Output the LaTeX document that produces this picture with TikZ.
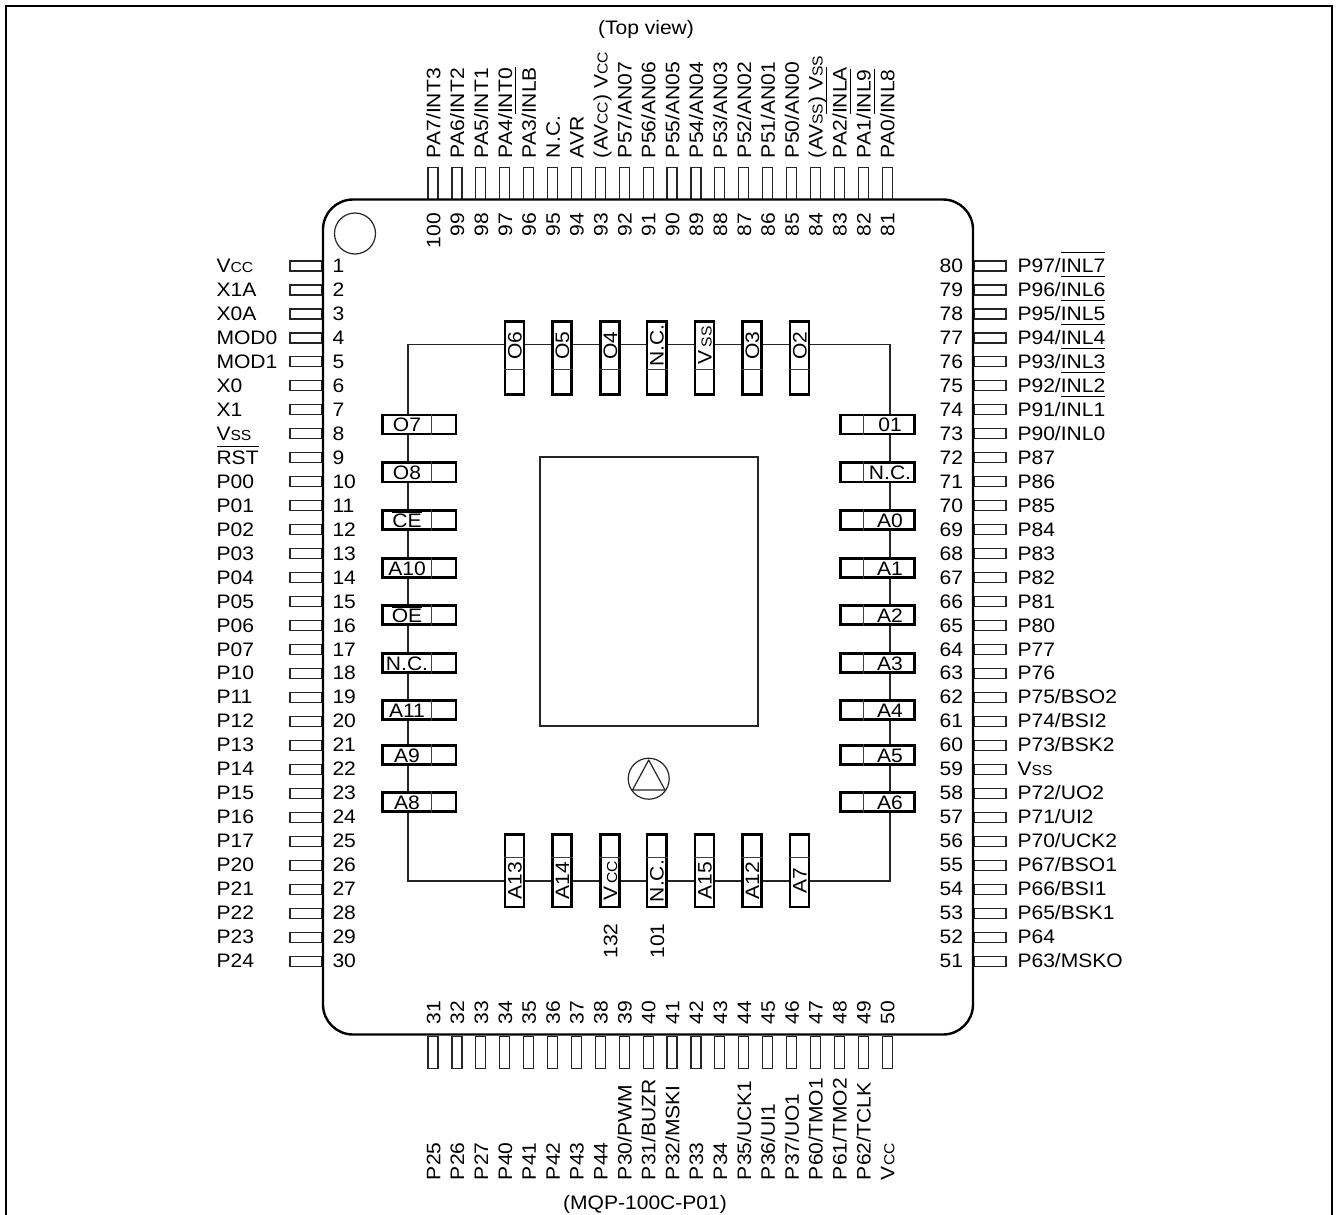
\documentclass[tikz,border=0pt]{standalone}
\usepackage{fontspec}
\setmainfont[FakeStretch=1.08]{Liberation Sans}
\newcommand\sm[1]{{\fontsize{14.5}{14.5}\selectfont #1}}
\newcommand\ovl[2][19.5]{\setbox0\hbox{#2}\rlap{\raisebox{#1pt}{\rule{\wd0}{1.1pt}}}\box0 }
\tikzset{
  pin/.style={draw=black!85,line width=1.2pt,fill=white,inner sep=0pt,outer sep=0pt},
  hpin/.style={pin,minimum width=32pt,minimum height=10pt},
  vpin/.style={pin,minimum width=10pt,minimum height=32pt},
  txt/.style={inner sep=0pt,outer sep=0pt,font=\fontsize{19.5}{21}\selectfont,text=black},
  hbx/.style={draw,line width=2.6pt,fill=white,inner sep=0pt,minimum width=73.6pt,minimum height=19.1pt},
  vbx/.style={draw,line width=2.6pt,fill=white,inner sep=0pt,minimum width=19.1pt,minimum height=72.6pt},
  rail/.style={line width=1.2pt,draw=black!85},
  div/.style={line width=0.9pt,draw=black!75}
}
\newcommand\lbx[3]{\node[hbx] (#1) at (419,#2) {};
  \draw[div] ([xshift=51pt]#1.north west) -- ([xshift=51pt]#1.south west);
  \node[txt,anchor=base] (#1t) at (407,#2+7.2) {#3};}
\newcommand\rbx[3]{\node[hbx] (#1) at (877.5,#2) {};
  \draw[div] ([xshift=24.5pt]#1.north west) -- ([xshift=24.5pt]#1.south west);
  \node[txt,anchor=base] (#1t) at (890,#2+7.2) {#3};}
\newcommand\tbx[3]{\node[vbx] (#1) at (#2,358) {};
  \draw[div] ([yshift=-49pt]#1.north west) -- ([yshift=-49pt]#1.north east);
  \node[txt,anchor=base,rotate=90] (#1t) at (#2+7,345.5) {#3};}
\newcommand\bbx[3]{\node[vbx] (#1) at (#2,870.7) {};
  \draw[div] ([yshift=-24pt]#1.north west) -- ([yshift=-24pt]#1.north east);
  \node[txt,anchor=base,rotate=90] (#1t) at (#2+7,881) {#3};}
\begin{document}
\begin{tikzpicture}[x=1pt,y=-1pt]
\useasboundingbox (0,0) rectangle (1336,1215);
\fill[white] (0,0) rectangle (1336,1215);
% outer frame
\coordinate (fa) at (6,1215); \coordinate (fb) at (6,6);
\coordinate (fc) at (1332,6); \coordinate (fd) at (1332,1215);
\draw[line width=1.3pt] (fa) -- (fb) -- (fc) -- (fd);
\node[txt,anchor=base] (title) at (646,35) {(Top view)};
\node[txt,anchor=base] (pkg) at (645,1209) {(MQP-100C-P01)};
% left pins
\foreach \t [count=\i from 1] in {V\sm{CC},X1A,X0A,MOD0,MOD1,X0,X1,V\sm{SS},\ovl[17]{RST},P00,P01,P02,P03,P04,P05,P06,P07,P10,P11,P12,P13,P14,P15,P16,P17,P20,P21,P22,P23,P24}{
  \pgfmathsetmacro\py{266+(\i-1)*23.97}
  \node[hpin] (pl\i) at (306,\py) {};
  \node[txt,anchor=base west] (nl\i) at (332.5,\py+6.5) {\i};
  \node[txt,anchor=base west] (tl\i) at (216.5,\py+6.5) {\t};
}
% right pins
\foreach \t [count=\i from 0] in {P97/\ovl{INL7},P96/\ovl{INL6},P95/\ovl{INL5},P94/\ovl{INL4},P93/\ovl{INL3},P92/\ovl{INL2},P91/\ovl{INL1},P90/INL0,P87,P86,P85,P84,P83,P82,P81,P80,P77,P76,P75/BSO2,P74/BSI2,P73/BSK2,V\sm{SS},P72/UO2,P71/UI2,P70/UCK2,P67/BSO1,P66/BSI1,P65/BSK1,P64,P63/MSKO}{
  \pgfmathsetmacro\py{266+\i*23.97}
  \pgfmathtruncatemacro\n{80-\i}
  \node[hpin] (pr\n) at (990,\py) {};
  \node[txt,anchor=base east] (nr\n) at (963,\py+6.5) {\n};
  \node[txt,anchor=base west] (tr\n) at (1017.5,\py+6.5) {\t};
}
% top pins
\foreach \t [count=\i from 0] in {PA7/INT3,PA6/INT2,PA5/INT1,PA4/INT0,PA3/\ovl{INLB},N.C.,AVR,(AV\sm{CC}) V\sm{CC},P57/AN07,P56/AN06,P55/AN05,P54/AN04,P53/AN03,P52/AN02,P51/AN01,P50/AN00,(AV\sm{SS}) V\sm{SS},PA2/\ovl{INLA},PA1/\ovl{INL9},PA0/\ovl{INL8}}{
  \pgfmathsetmacro\px{433+\i*23.9}
  \pgfmathtruncatemacro\n{100-\i}
  \node[vpin] (pt\n) at (\px,183.5) {};
  \node[txt,anchor=base east,rotate=90] (nt\n) at (\px+7.3,213) {\n};
  \node[txt,anchor=base west,rotate=90] (tt\n) at (\px+7.3,158) {\t};
}
% bottom pins
\foreach \t [count=\i from 0] in {P25,P26,P27,P40,P41,P42,P43,P44,P30/PWM,P31/BUZR,P32/MSKI,P33,P34,P35/UCK1,P36/UI1,P37/UO1,P60/TMO1,P61/TMO2,P62/TCLK,V\sm{CC}}{
  \pgfmathsetmacro\px{433+\i*23.9}
  \pgfmathtruncatemacro\n{31+\i}
  \node[vpin] (pb\n) at (\px,1052.5) {};
  \node[txt,anchor=base west,rotate=90] (nb\n) at (\px+7.3,1024) {\n};
  \node[txt,anchor=base west,rotate=90] (tb\n) at (\px+7.3,1180) {\t};
}
% package body
\node[draw,line width=2.4pt,rounded corners=30pt,minimum width=650pt,minimum height=835pt,inner sep=0pt] (body) at (648,617) {};
\node[draw=black!85,line width=1.2pt,circle,minimum size=41pt,inner sep=0pt] (dot) at (355,233.5) {};
% die
\node[draw=black!85,line width=1.2pt,minimum width=218pt,minimum height=269pt,inner sep=0pt] (die) at (649,591.5) {};
% orientation mark
\node[draw=black!85,line width=1.2pt,circle,minimum size=41pt,inner sep=0pt] (mark) at (648.7,778.7) {};
\coordinate (ma) at (648.7,760); \coordinate (mb) at (632.5,790); \coordinate (mc) at (665,790);
\draw[line width=1.2pt,draw=black!85,line join=round] (ma) -- (mb) -- (mc) -- cycle;
% corners of the rail
\coordinate (TL) at (408,344.5); \coordinate (TR) at (890,344.5);
\coordinate (BL) at (408,881); \coordinate (BR) at (890,881);
% inner boxes
\lbx{La}{424.5}{O7}
\lbx{Lb}{472.3}{O8}
\lbx{Lc}{520}{\ovl[14.5]{CE}}
\lbx{Ld}{567.8}{A10}
\lbx{Le}{615}{\ovl[14.5]{OE}}
\lbx{Lf}{663}{N.C.}
\lbx{Lg}{710}{A11}
\lbx{Lh}{755}{A9}
\lbx{Li}{802}{A8}
\rbx{Ra}{424.5}{01}
\rbx{Rb}{472.3}{N.C.}
\rbx{Rc}{520}{A0}
\rbx{Rd}{567.8}{A1}
\rbx{Re}{615}{A2}
\rbx{Rf}{663}{A3}
\rbx{Rg}{710}{A4}
\rbx{Rh}{755}{A5}
\rbx{Ri}{802}{A6}
\tbx{Ta}{514.5}{O6}
\tbx{Tb}{562}{O5}
\tbx{Tc}{610}{O4}
\tbx{Td}{656.7}{N.C.}
\tbx{Te}{704.5}{V\,\sm{SS}}
\tbx{Tf}{752}{O3}
\tbx{Tg}{799.5}{O2}
\bbx{Ba}{514.5}{A13}
\bbx{Bb}{562}{A14}
\bbx{Bc}{610}{V\,\sm{CC}}
\bbx{Bd}{656.7}{N.C.}
\bbx{Be}{704.5}{A15}
\bbx{Bf}{752}{A12}
\bbx{Bg}{799.5}{A7}
\node[txt,anchor=base,rotate=90] (n132) at (617.3,941) {132};
\node[txt,anchor=base,rotate=90] (n101) at (664,941) {101};
% rail
\draw[rail] (La.north -| TL) -- (TL) -- (Ta.west |- TL);
\draw[rail] (Tg.east |- TR) -- (TR) -- (Ra.north -| TR);
\draw[rail] (Li.south -| BL) -- (BL) -- (Ba.west |- BL);
\draw[rail] (Bg.east |- BR) -- (BR) -- (Ri.south -| BR);
\foreach \a/\b in {Ta/Tb,Tb/Tc,Tc/Td,Td/Te,Te/Tf,Tf/Tg}
  \draw[rail] (\a.east |- TL) -- (\b.west |- TL);
\foreach \a/\b in {Ba/Bb,Bb/Bc,Bc/Bd,Bd/Be,Be/Bf,Bf/Bg}
  \draw[rail] (\a.east |- BL) -- (\b.west |- BL);
\foreach \a/\b in {La/Lb,Lb/Lc,Lc/Ld,Ld/Le,Le/Lf,Lf/Lg,Lg/Lh,Lh/Li}
  \draw[rail] (\a.south -| TL) -- (\b.north -| TL);
\foreach \a/\b in {Ra/Rb,Rb/Rc,Rc/Rd,Rd/Re,Re/Rf,Rf/Rg,Rg/Rh,Rh/Ri}
  \draw[rail] (\a.south -| TR) -- (\b.north -| TR);
\end{tikzpicture}
\end{document}
